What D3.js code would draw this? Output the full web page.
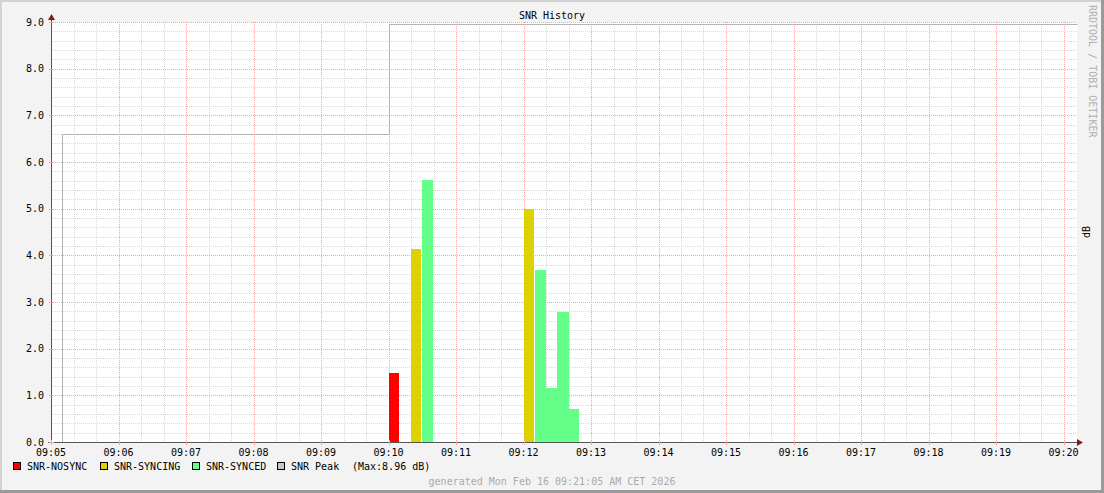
<!DOCTYPE html>
<html>
<head>
<meta charset="utf-8">
<script src="https://cdn.jsdelivr.net/npm/d3@7"></script>
<style>
  body { margin: 0; background: #fff; }
  svg { display: block; font-family: "DejaVu Sans Mono", monospace; }
</style>
</head>
<body>
<svg id="chart" width="1104" height="493"></svg>
<script>
// SNR history, 10 second steps
const stepSec = 10;
const nosync = [["09:10:00", 1.48]];
const syncing = [["09:10:20", 4.14], ["09:12:00", 5.0]];
const synced = [["09:10:30", 5.62], ["09:12:10", 3.69], ["09:12:20", 1.16], ["09:12:30", 2.79], ["09:12:40", 0.71]];
const peak = [["09:05:10", 6.6], ["09:10:00", 8.96]];
const yTicks = [0, 1, 2, 3, 4, 5, 6, 7, 8, 9];

const legendItems = [
    { name: "SNR-NOSYNC", color: "#ff0000" },
    { name: "SNR-SYNCING", color: "#dcd300" },
    { name: "SNR-SYNCED", color: "#64ff88" },
    { name: "SNR Peak", color: "#c8c8c8" }
];

const W = 1104, H = 493;
const parse = s => d3.timeParse("%Y-%m-%d %H:%M:%S")("2026-02-16 " + s);

const x = d3.scaleTime()
    .domain([parse("09:05:00"), parse("09:20:12")])
    .range([51, 1077]);
const y = d3.scaleLinear().domain([0, 9]).range([442, 22]);

const svg = d3.select("#chart");

// frame
svg.append("rect").attr("width", W).attr("height", H).attr("fill", "#f3f3f3");
svg.append("rect").attr("x", 0).attr("y", 0).attr("width", W).attr("height", 2).attr("fill", "#d2d2d2");
svg.append("rect").attr("x", 0).attr("y", 0).attr("width", 2).attr("height", H).attr("fill", "#d2d2d2");
svg.append("rect").attr("x", 0).attr("y", H - 3).attr("width", W).attr("height", 3).attr("fill", "#9a9a9a");
svg.append("rect").attr("x", W - 3).attr("y", 0).attr("width", 3).attr("height", H).attr("fill", "#9a9a9a");

// plot canvas
const [x0, x1] = x.range();
svg.append("rect").attr("x", x0).attr("y", 22).attr("width", x1 - x0).attr("height", 420).attr("fill", "#ffffff");

const grid = svg.append("g").attr("stroke-width", 1).attr("stroke-dasharray", "1,1");

// minor grid
const minorX = x.ticks(d3.timeSecond.every(20)).filter(d => d.getSeconds() !== 0);
grid.selectAll(".mx").data(minorX).join("line")
    .attr("x1", d => Math.round(x(d)) + 0.5).attr("x2", d => Math.round(x(d)) + 0.5)
    .attr("y1", 22).attr("y2", 442).attr("stroke", "#d8d8d8");
const minorY = d3.range(0, 45).map(i => i * 0.2).filter((v, i) => i % 5 !== 0);
grid.selectAll(".my").data(minorY).join("line")
    .attr("x1", x0).attr("x2", x1)
    .attr("y1", d => Math.round(y(d)) + 0.5).attr("y2", d => Math.round(y(d)) + 0.5)
    .attr("stroke", "#d8d8d8");

// major grid
const majorX = x.ticks(d3.timeMinute.every(1));
grid.selectAll(".Mx").data(majorX).join("line")
    .attr("x1", d => Math.round(x(d)) + 0.5).attr("x2", d => Math.round(x(d)) + 0.5)
    .attr("y1", 22).attr("y2", 442).attr("stroke", "#f0a8a8");
grid.selectAll(".My").data(yTicks.slice(1)).join("line")
    .attr("x1", x0).attr("x2", x1)
    .attr("y1", d => Math.round(y(d)) + 0.5).attr("y2", d => Math.round(y(d)) + 0.5)
    .attr("stroke", "#f0a8a8");

// bars: consecutive samples of one series are drawn as one block
const step = t => new Date(parse(t).getTime() + stepSec * 1000);
function drawBars(data, color) {
    const g = svg.append("g").attr("fill", color).attr("shape-rendering", "crispEdges");
    data.forEach((d, i) => {
        const next = data[i + 1];
        const joinedNext = next && step(d[0]).getTime() === parse(next[0]).getTime();
        const xa = Math.round(x(parse(d[0])));
        const xb = Math.round(x(step(d[0]))) - (joinedNext ? 0 : 1);
        const yt = Math.round(y(d[1]));
        g.append("rect")
            .attr("x", xa).attr("width", xb - xa)
            .attr("y", yt).attr("height", y(0) - yt);
    });
}
drawBars(nosync, legendItems[0].color);
drawBars(syncing, legendItems[1].color);
drawBars(synced, legendItems[2].color);

// peak line (step)
const peakPts = [[parse(peak[0][0]), 0]];
peak.forEach((p, i) => {
    if (i > 0) peakPts.push([parse(p[0]), peak[i - 1][1]]);
    peakPts.push([parse(p[0]), p[1]]);
});
peakPts.push([x.domain()[1], peak[peak.length - 1][1]]);
svg.append("path")
    .attr("d", d3.line().x(d => Math.round(x(d[0])) + 0.5).y(d => Math.round(y(d[1])) + 0.5)(peakPts))
    .attr("fill", "none").attr("stroke", "#b4b4b4").attr("stroke-width", 1);

// axes
const axisColor = "#555";
svg.append("line").attr("x1", x0 - 3).attr("x2", x1 + 2).attr("y1", 442.5).attr("y2", 442.5).attr("stroke", axisColor);
svg.append("line").attr("x1", x0 + 0.5).attr("x2", x0 + 0.5).attr("y1", 445).attr("y2", 18).attr("stroke", axisColor);
svg.append("path").attr("d", `M${x1 + 6},442.5 L${x1},439 L${x1},446 Z`).attr("fill", "#7f1d1d");
svg.append("path").attr("d", `M${x0 + 0.5},14 L${x0 - 3},20 L${x0 + 4},20 Z`).attr("fill", "#7f1d1d");

// tick marks
svg.append("g").selectAll("line").data(majorX).join("line")
    .attr("x1", d => Math.round(x(d)) + 0.5).attr("x2", d => Math.round(x(d)) + 0.5)
    .attr("y1", 440).attr("y2", 445).attr("stroke", "#f0a8a8");
svg.append("g").selectAll("line").data(yTicks).join("line")
    .attr("x1", x0 - 2).attr("x2", x0 + 3)
    .attr("y1", d => Math.round(y(d)) + 0.5).attr("y2", d => Math.round(y(d)) + 0.5)
    .attr("stroke", "#f0a8a8");

// tick labels
const fmt = d3.timeFormat("%H:%M");
svg.append("g").selectAll("text").data(majorX).join("text")
    .attr("x", d => x(d)).attr("y", 456)
    .attr("text-anchor", "middle").attr("font-size", 10).attr("fill", "#000")
    .text(d => fmt(d));
svg.append("g").selectAll("text").data(yTicks).join("text")
    .attr("x", 44).attr("y", d => y(d) + 3.5)
    .attr("text-anchor", "end").attr("font-size", 10).attr("fill", "#000")
    .text(d => d.toFixed(1));

// title
svg.append("text").attr("x", 552).attr("y", 19).attr("text-anchor", "middle")
    .attr("font-size", 10).attr("fill", "#000").text("SNR History");

// right side labels
svg.append("text").attr("transform", "translate(1090,232) rotate(-90)")
    .attr("text-anchor", "middle").attr("font-size", 10).attr("fill", "#000").text("dB");
svg.append("text").attr("transform", "translate(1089,5) rotate(90)")
    .attr("text-anchor", "start").attr("font-size", 10).attr("fill", "#b0b0b0").text("RRDTOOL / TOBI OETIKER");

// legend
const legendX = [13, 100, 192, 277];
const lg = svg.append("g").selectAll("g").data(legendItems).join("g")
    .attr("transform", (d, i) => `translate(${legendX[i]},462)`);
lg.append("rect").attr("x", 0.5).attr("y", 0.5).attr("width", 7).attr("height", 7)
    .attr("fill", d => d.color).attr("stroke", "#000");
lg.append("text").attr("x", 14).attr("y", 8).attr("font-size", 10).attr("fill", "#000").text(d => d.name);
svg.append("text").attr("x", 352).attr("y", 470).attr("font-size", 10).attr("fill", "#000")
    .text("(Max:" + d3.max(peak, p => p[1]).toFixed(2) + " dB)");

// footer
svg.append("text").attr("x", 552).attr("y", 485).attr("text-anchor", "middle")
    .attr("font-size", 10).attr("fill", "#aaaaaa").text("generated Mon Feb 16 09:21:05 AM CET 2026");
</script>
</body>
</html>
